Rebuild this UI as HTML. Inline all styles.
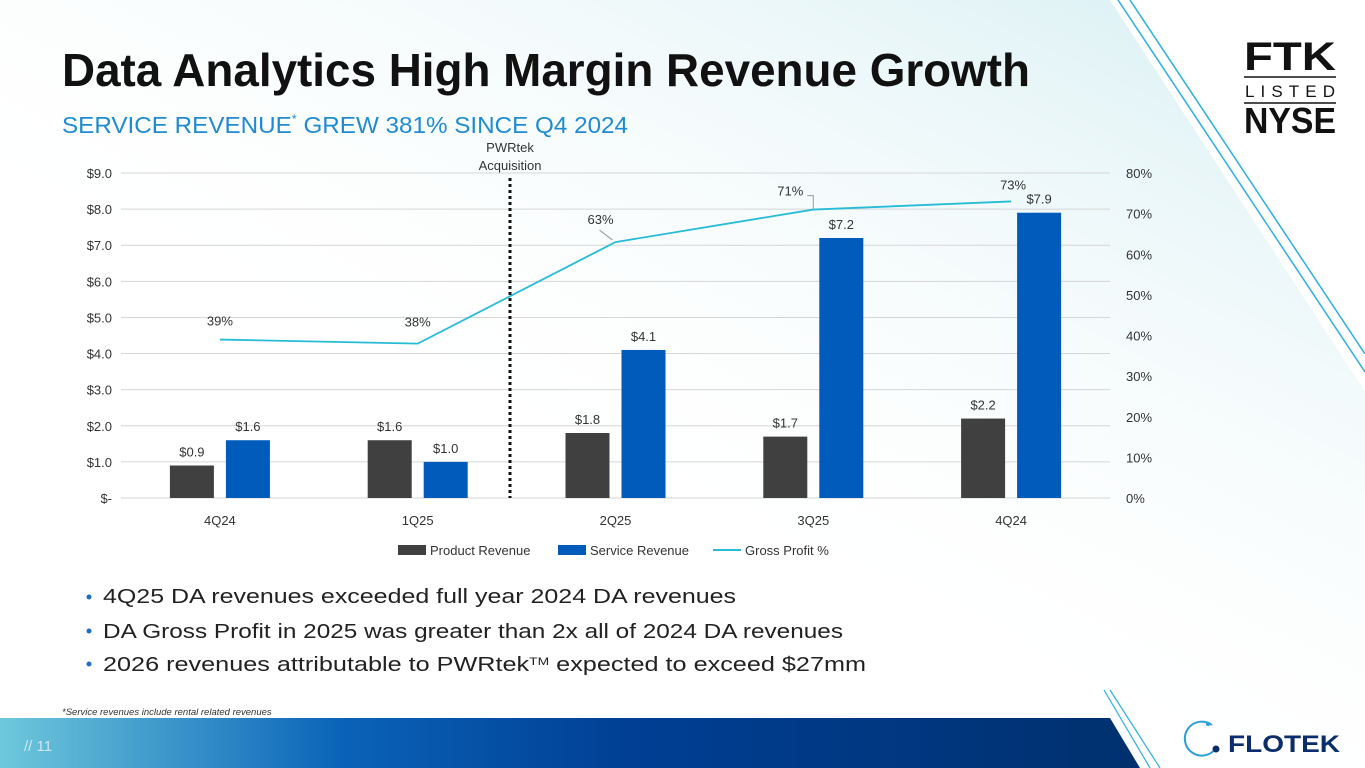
<!DOCTYPE html>
<html><head><meta charset="utf-8"><style>
html,body{margin:0;padding:0;background:#fff}
svg{display:block;font-family:"Liberation Sans",sans-serif}
</style></head><body>
<svg id="page" width="1365" height="768" viewBox="0 0 1365 768" xmlns="http://www.w3.org/2000/svg">
<defs>
<linearGradient id="bgfade" x1="0" y1="1" x2="1" y2="0">
<stop offset="0" stop-color="#ffffff" stop-opacity="0"/>
<stop offset="0.35" stop-color="#ffffff" stop-opacity="0"/>
<stop offset="1" stop-color="#c8e9ee"/>
</linearGradient>
<linearGradient id="band" x1="0" y1="0" x2="1" y2="0">
<stop offset="0" stop-color="#6ec8dc"/>
<stop offset="0.3" stop-color="#0a63b8"/>
<stop offset="0.55" stop-color="#003f94"/>
<stop offset="1" stop-color="#00306e"/>
</linearGradient>
</defs>
<polygon points="0,0 1110,0 1610,768 0,768" fill="url(#bgfade)"/>
<line x1="1118" y1="0" x2="1365" y2="372" stroke="#2ab0dc" stroke-width="1.5"/>
<line x1="1130" y1="0" x2="1365" y2="354" stroke="#2ab0dc" stroke-width="1.5"/>
<polygon points="0,718 1110,718 1140,768 0,768" fill="url(#band)"/>
<line x1="1104" y1="690" x2="1150" y2="768" stroke="#2ab0dc" stroke-width="1.2"/>
<line x1="1110" y1="690" x2="1160" y2="768" stroke="#2ab0dc" stroke-width="1.2"/>
<text x="24" y="751" font-size="15" fill="#cfe6f2">// 11</text>
<g>
<path d="M1212,725 A17,17 0 1 0 1216,748" fill="none" stroke="#2a9fd8" stroke-width="2"/>
<circle cx="1216" cy="749" r="3.5" fill="#0b2d6b"/>
<circle cx="1208" cy="724" r="2" fill="#2a9fd8"/>
<text x="1228" y="752" font-size="24" font-weight="bold" fill="#0b2d6b" textLength="112" lengthAdjust="spacingAndGlyphs">FLOTEK</text>
</g>
<g>
<text x="1244" y="70" font-size="40" font-weight="bold" fill="#111" textLength="92" lengthAdjust="spacingAndGlyphs">FTK</text>
<line x1="1244" y1="77" x2="1336" y2="77" stroke="#111" stroke-width="1.5"/>
<text x="1245" y="97" font-size="17" fill="#111" textLength="90" lengthAdjust="spacing">LISTED</text>
<line x1="1244" y1="103" x2="1336" y2="103" stroke="#111" stroke-width="1.5"/>
<text x="1244" y="133" font-size="36" font-weight="bold" fill="#111" textLength="92" lengthAdjust="spacingAndGlyphs">NYSE</text>
</g>
<text x="62" y="86" font-size="46" font-weight="bold" fill="#111" textLength="968" lengthAdjust="spacingAndGlyphs">Data Analytics High Margin Revenue Growth</text>
<text x="62" y="133" font-size="23" fill="#1f8bd0" textLength="566" lengthAdjust="spacingAndGlyphs">SERVICE REVENUE<tspan font-size="12" dy="-10">*</tspan><tspan dy="10"> GREW 381% SINCE Q4 2024</tspan></text>
<g id="chart"></g>
<g font-size="20" fill="#222">
<circle cx="89" cy="597" r="2.5" fill="#1f6fc0"/><text x="103" y="603" textLength="633" lengthAdjust="spacingAndGlyphs">4Q25 DA revenues exceeded full year 2024 DA revenues</text>
<circle cx="89" cy="631" r="2.5" fill="#1f6fc0"/><text x="103" y="638" textLength="740" lengthAdjust="spacingAndGlyphs">DA Gross Profit in 2025 was greater than 2x all of 2024 DA revenues</text>
<circle cx="89" cy="664" r="2.5" fill="#1f6fc0"/><text x="103" y="671" textLength="763" lengthAdjust="spacingAndGlyphs">2026 revenues attributable to PWRtek<tspan font-size="11" dy="-6">TM</tspan><tspan dy="6"> expected to exceed $27mm</tspan></text>
</g>
<text x="62" y="715" font-size="9.5" font-style="italic" fill="#333">*Service revenues include rental related revenues</text>
</svg>
<script>
const categories=["4Q24","1Q25","2Q25","3Q25","4Q24"];
const productRevenue=[0.9,1.6,1.8,1.7,2.2];
const serviceRevenue=[1.6,1.0,4.1,7.2,7.9];
const grossProfitPct=[39,38,63,71,73];
const leftTicks=[0,1,2,3,4,5,6,7,8,9];
const rightTicks=[0,10,20,30,40,50,60,70,80];
const NS="http://www.w3.org/2000/svg";
const g=document.getElementById('chart');
const X0=121,X1=1110,Y0=498,Y1=173;
const yL=v=>Y0-(v/9)*(Y0-Y1);
const yR=v=>Y0-(v/80)*(Y0-Y1);
const step=(X1-X0)/categories.length;
const xC=i=>X0+step*(i+0.5);
function mk(tag,attrs,txt){const e=document.createElementNS(NS,tag);for(const k in attrs)e.setAttribute(k,attrs[k]);if(txt!==undefined)e.textContent=txt;g.appendChild(e);return e;}
leftTicks.forEach(t=>{
 const l=mk('line',{x1:X0,x2:X1,y1:yL(t),y2:yL(t),stroke:'#d6d6d6','stroke-width':1});
 
 
 const tx=mk('text',{x:112,y:yL(t)+5,'text-anchor':'end','font-size':13,fill:'#333'},t===0?'$-':'$'+t.toFixed(1));
 
 
});
rightTicks.forEach(t=>{
 const tx=mk('text',{x:1126,y:yR(t)+5,'font-size':13,fill:'#333'},t+'%');
 
 
});
const bw=44;
categories.forEach((c,i)=>{
 const cx=xC(i);
 const pb=mk('rect',{x:cx-50,y:yL(productRevenue[i]),width:bw,height:Y0-yL(productRevenue[i]),fill:'#404040'});
 
 
 const sb=mk('rect',{x:cx+6,y:yL(serviceRevenue[i]),width:bw,height:Y0-yL(serviceRevenue[i]),fill:'#005bbb'});
 
 
 const pl=mk('text',{x:cx-28,y:yL(productRevenue[i])-9,'text-anchor':'middle','font-size':13,fill:'#333'},'$'+productRevenue[i].toFixed(1));
 
 
 const sl=mk('text',{x:cx+28,y:yL(serviceRevenue[i])-9,'text-anchor':'middle','font-size':13,fill:'#333'},'$'+serviceRevenue[i].toFixed(1));
 
 
 const xl=mk('text',{x:cx,y:525,'text-anchor':'middle','font-size':13,fill:'#333'},c);
 
 
});
const pts=grossProfitPct.map((v,i)=>xC(i)+','+yR(v)).join(' ');
const line=mk('polyline',{points:pts,fill:'none',stroke:'#26bcd6','stroke-width':1.8});


const lblOff=[[0,-14],[0,-17],[-15,-18],[-23,-14],[2,-12]];
grossProfitPct.forEach((v,i)=>{
 const t=mk('text',{x:xC(i)+lblOff[i][0],y:yR(v)+lblOff[i][1],'text-anchor':'middle','font-size':13,fill:'#333'},v+'%');
 
 
});
const ld1=mk('polyline',{points:(xC(2)-3)+','+(yR(grossProfitPct[2])-2)+' '+(xC(2)-16)+','+(yR(grossProfitPct[2])-12),fill:'none',stroke:'#999','stroke-width':1});


const ld2=mk('polyline',{points:xC(3)+','+(yR(grossProfitPct[3])-1)+' '+xC(3)+','+(yR(grossProfitPct[3])-14)+' '+(xC(3)-6)+','+(yR(grossProfitPct[3])-14),fill:'none',stroke:'#999','stroke-width':1});


const dv=mk('line',{x1:510,x2:510,y1:178,y2:Y0,stroke:'#111','stroke-width':3,'stroke-dasharray':'3,3'});


const a1=mk('text',{x:510,y:152,'text-anchor':'middle','font-size':13,fill:'#333'},'PWRtek');


const a2=mk('text',{x:510,y:170,'text-anchor':'middle','font-size':13,fill:'#333'},'Acquisition');


const legend=[['rect','#404040','Product Revenue',398],['rect','#005bbb','Service Revenue',558],['line','#26bcd6','Gross Profit %',713]];
legend.forEach(([k,col,name,x])=>{
 let s;
 if(k==='rect') s=mk('rect',{x:x,y:545,width:28,height:10,fill:col});
 else s=mk('line',{x1:x,x2:x+28,y1:550,y2:550,stroke:col,'stroke-width':2});
 
 
 const t=mk('text',{x:x+32,y:555,'font-size':13,fill:'#333'},name);
 
 
});
</script>
</body></html>
